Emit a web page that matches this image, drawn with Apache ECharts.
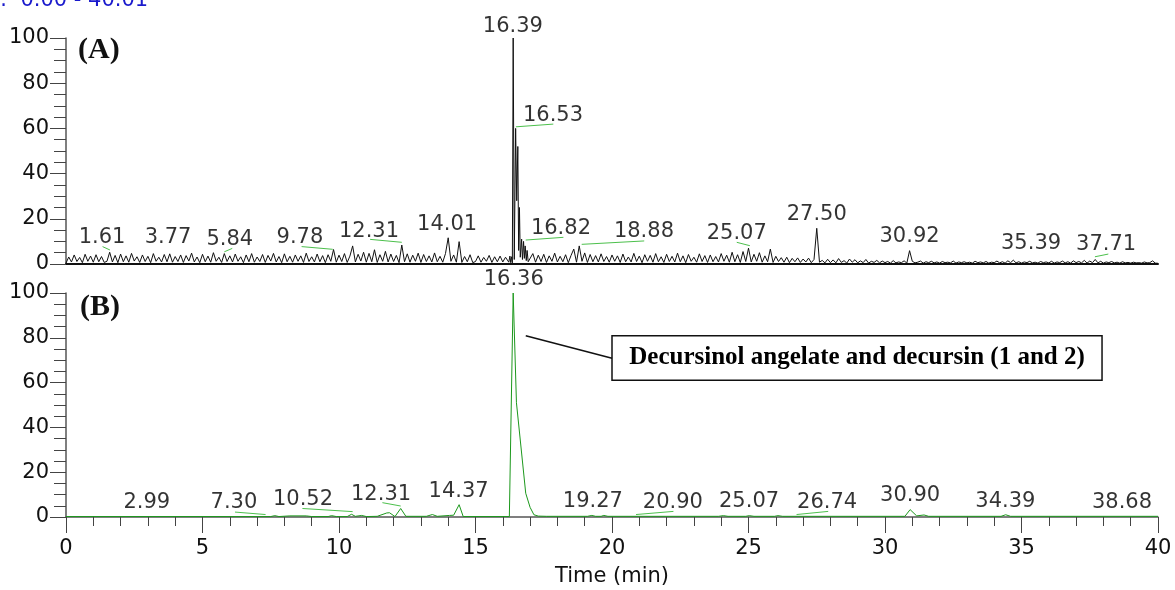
<!DOCTYPE html>
<html>
<head>
<meta charset="utf-8">
<script src="https://cdn.jsdelivr.net/npm/echarts@6/dist/echarts.min.js"></script>
<style>
  html, body { margin: 0; padding: 0; background: #fff; }
  #main { width: 1175px; height: 590px; }
</style>
</head>
<body>
<div id="main"></div>
<script>
var chartDom = document.getElementById("main");
var myChart = echarts.init(chartDom);
var option;

// (A) trace: one reading every 0.1 min, 0 -> 40 min (rows = one minute)
var stepA = 0.1;
var baseA = [
  0.4, 3.1, 0.9, 4.0, 1.1, 2.9, 0.6, 4.3, 1.2, 3.5,
  0.8, 4.1, 1.0, 3.3, 0.7, 1.2, 5.2, 0.9, 3.8, 0.6,
  4.4, 1.0, 3.6, 0.8, 4.7, 1.3, 3.2, 0.7, 4.0, 1.1,
  3.4, 0.6, 4.6, 1.2, 3.0, 0.9, 4.2, 1.0, 4.5, 0.8,
  3.3, 1.1, 4.0, 0.7, 3.7, 1.3, 4.8, 0.9, 3.1, 0.6,
  4.3, 1.0, 3.5, 0.8, 5.0, 1.2, 3.0, 0.7, 4.6, 1.1,
  3.6, 0.9, 4.4, 1.2, 3.2, 0.6, 4.0, 1.0, 4.6, 0.8,
  3.1, 1.1, 4.2, 0.7, 3.8, 1.3, 4.7, 0.9, 3.3, 0.6,
  4.5, 1.0, 3.4, 0.8, 4.0, 1.2, 3.6, 0.7, 4.8, 1.1,
  3.2, 0.9, 4.4, 1.0, 3.7, 0.6, 4.1, 1.2, 6.4, 0.8,
  3.9, 1.1, 4.6, 0.7, 3.5, 8.0, 0.9, 4.3, 1.3, 5.2,
  0.8, 4.7, 1.0, 6.3, 0.7, 4.1, 1.2, 5.6, 0.9, 4.4,
  1.1, 3.8, 0.6, 8.4, 1.0, 4.5, 0.8, 3.9, 1.2, 4.8,
  0.7, 4.2, 1.1, 3.6, 0.9, 4.9, 1.0, 3.4, 0.8, 4.6,
  11.6, 1.2, 4.0, 0.8, 9.9, 0.7, 3.3, 1.0, 4.1, 0.6,
  1.1, 3.6, 0.8, 2.9, 1.2, 3.8, 0.7, 3.2, 1.0, 3.5,
  0.9, 3.0, 1.0, 1.0, 1.0, 1.0, 1.0, 1.0, 1.0, 1.0,
  1.0, 4.6, 0.8, 3.9, 1.1, 4.3, 0.7, 3.6, 1.2, 4.8,
  0.9, 3.4, 1.0, 4.1, 0.6, 3.8, 6.6, 0.8, 8.0, 1.2,
  4.9, 0.7, 4.2, 1.0, 3.7, 0.9, 4.5, 1.1, 3.3, 0.8,
  4.0, 1.2, 3.6, 0.7, 4.4, 1.0, 3.1, 0.9, 4.7, 1.1,
  3.5, 0.6, 4.1, 1.2, 3.8, 0.8, 4.6, 1.0, 3.2, 0.7,
  4.3, 1.1, 3.4, 0.9, 4.8, 1.0, 3.6, 0.6, 4.2, 1.2,
  3.0, 0.8, 4.5, 1.1, 3.7, 0.7, 4.0, 1.0, 3.3, 0.9,
  4.6, 1.2, 3.9, 0.8, 5.2, 1.0, 4.1, 0.7, 5.5, 1.1,
  7.0, 0.9, 4.3, 1.2, 5.0, 0.8, 3.6, 1.0, 6.6, 0.7,
  3.4, 1.1, 2.8, 0.8, 3.0, 0.6, 2.5, 1.0, 2.7, 0.7,
  2.2, 0.9, 2.6, 0.6, 2.0, 15.8, 0.8, 1.6, 0.5, 2.1,
  0.6, 1.8, 0.5, 2.4, 0.7, 1.5, 0.4, 2.2, 0.8, 1.9,
  0.5, 1.4, 0.6, 2.0, 0.4, 1.2, 0.7, 1.6, 0.5, 1.3,
  0.6, 1.1, 0.4, 1.5, 0.5, 0.9, 0.6, 1.4, 0.4, 5.9,
  1.2, 0.5, 0.8, 1.3, 0.4, 1.0, 0.6, 1.2, 0.5, 0.9,
  0.4, 1.1, 0.6, 0.8, 0.5, 1.3, 0.4, 0.9, 0.6, 1.0,
  0.5, 0.8, 0.4, 1.2, 0.6, 0.9, 0.5, 1.1, 0.4, 0.8,
  0.6, 1.3, 0.5, 1.0, 0.4, 1.4, 0.6, 1.7, 0.5, 1.0,
  0.4, 0.9, 0.6, 1.2, 0.5, 0.8, 0.4, 1.1, 0.6, 0.9,
  0.5, 1.2, 0.4, 0.9, 0.6, 1.3, 0.5, 1.0, 0.4, 1.4,
  0.6, 1.1, 0.5, 1.6, 0.4, 1.3, 0.6, 2.0, 0.5, 1.2,
  0.4, 0.9, 0.6, 1.1, 0.5, 0.8, 0.4, 1.0, 0.5, 0.7,
  0.4, 0.8, 0.5, 0.6, 0.4, 0.9, 0.5, 0.6, 1.4, 0.4,
  0.3
];
// (A) main cluster, read point by point (replaces the grid between 16.15 and 16.95)
var clusterFrom = 16.15, clusterTo = 16.95;
var clusterA = [
  [16.22, 0.8], [16.26, 3.5], [16.29, 0.6], [16.32, 3.2], [16.35, 0.5],
  [16.38, 100], [16.42, 2.0], [16.47, 60], [16.51, 28], [16.55, 52],
  [16.58, 6], [16.61, 25], [16.64, 3], [16.69, 11], [16.72, 2],
  [16.76, 10], [16.79, 2.5], [16.82, 8], [16.86, 1.5], [16.89, 6], [16.93, 1.0]
];

// (B) trace [time, relative abundance]
var traceB = [
  [0, 0.2], [7.5, 0.2], [7.65, 0.6], [7.8, 0.2], [8.2, 0.5], [8.8, 0.5], [9.0, 0.2],
  [9.6, 0.2], [9.73, 0.6], [9.9, 0.2], [10.3, 0.2], [10.46, 1.2], [10.6, 0.3],
  [10.83, 0.7], [11.0, 0.2], [11.4, 0.3], [11.75, 1.8], [11.85, 1.9], [12.05, 0.2],
  [12.26, 3.8], [12.45, 0.3], [13.2, 0.3], [13.42, 1.1], [13.6, 0.3], [14.05, 0.7],
  [14.2, 0.8], [14.4, 5.5], [14.55, 0.2], [16.24, 0.2], [16.38, 100], [16.5, 51],
  [16.84, 10.6], [17.0, 4.3], [17.14, 1.0], [17.3, 0.4], [17.6, 0.3], [19.1, 0.3],
  [19.26, 0.7], [19.4, 0.3], [19.6, 0.3], [19.7, 0.7], [19.85, 0.3], [23.9, 0.3],
  [24.08, 0.6], [24.25, 0.3], [24.9, 0.3], [25.03, 0.6], [25.2, 0.3], [25.95, 0.3],
  [26.08, 0.6], [26.25, 0.3], [30.73, 0.3], [30.92, 3.3], [31.16, 0.5], [31.43, 0.9],
  [31.6, 0.3], [34.25, 0.3], [34.42, 1.0], [34.6, 0.3], [40, 0.3]
];

// peak labels: [text, time, height] (where the text sits)
var labelsA = [
  ["1.61", 1.32, 11.7], ["3.77", 3.74, 11.7], ["5.84", 6.0, 10.8], ["9.78", 8.57, 11.5],
  ["12.31", 11.1, 14.4], ["14.01", 13.96, 17.5], ["16.39", 16.37, 105], ["16.53", 17.84, 65.9],
  ["16.82", 18.13, 15.9], ["18.88", 21.17, 14.2], ["25.07", 24.57, 13.5], ["27.50", 27.5, 21.9],
  ["30.92", 30.9, 12.2], ["35.39", 35.35, 9.1], ["37.71", 38.1, 8.4]
];
var labelsB = [
  ["2.99", 2.96, 6.3], ["7.30", 6.15, 6.3], ["10.52", 8.68, 7.6], ["12.31", 11.54, 9.9],
  ["14.37", 14.38, 11.5], ["16.36", 16.4, 106], ["19.27", 19.3, 6.7], ["20.90", 22.23, 6.3],
  ["25.07", 25.02, 6.8], ["26.74", 27.88, 6.3], ["30.90", 30.92, 9.5], ["34.39", 34.41, 6.7],
  ["38.68", 38.68, 6.3]
];
// green label leaders: [t1, y1, t2, y2]
var leadersA = [
  [1.34, 7.7, 1.61, 6.2], [5.80, 5.4, 6.09, 6.9], [8.63, 7.7, 9.77, 6.5],
  [11.14, 10.9, 12.3, 9.6], [16.48, 60.7, 17.85, 61.9], [16.84, 10.6, 18.22, 11.8],
  [18.89, 8.7, 21.18, 10.2], [24.57, 9.6, 25.05, 8.1], [37.69, 3.2, 38.18, 4.4]
];
var leadersB = [
  [6.19, 2.2, 7.31, 1.1], [8.66, 3.8, 10.5, 2.4], [11.59, 6.4, 12.26, 4.9],
  [20.88, 1.1, 22.25, 2.5], [26.76, 1.1, 27.92, 2.5]
];
var noteText = "Decursinol angelate and decursin (1 and 2)";
var noteLeader = [16.84, 80.9, 20.0, 70.9];
var noteBox = [20.0, 80.9, 37.95, 61.1];

var traceA = [];
baseA.forEach(function (v, i) {
  var t = +(i * stepA).toFixed(2);
  if (t < clusterFrom || t > clusterTo) traceA.push([t, v]);
});
traceA = traceA.concat(clusterA).sort(function (a, b) { return a[0] - b[0]; });

var numFont = "DejaVu Sans";
var green = "#1c981c";
var leaderGreen = "#4cc04c";

function labelData(list) {
  return list.map(function (l) { return { name: l[0], value: [l[1], l[2]] }; });
}
function leaderData(list) {
  return list.map(function (l) { return [{ coord: [l[0], l[1]] }, { coord: [l[2], l[3]] }]; });
}
// major y axis (labels, long ticks)
function yMajor(idx) {
  return {
    gridIndex: idx, type: "value", position: "left", min: 0, max: 100, interval: 20,
    axisLine: { show: true, lineStyle: { color: "#555", width: 1.5 } },
    axisTick: { show: true, length: 16, lineStyle: { color: "#444" } },
    axisLabel: { fontFamily: numFont, fontSize: 21, color: "#111", margin: 17 },
    splitLine: { show: false }
  };
}
// minor y axis: short ticks every 5, same side
function yMinor(idx) {
  return {
    gridIndex: idx, type: "value", position: "left", offset: 0, min: 0, max: 100, interval: 5,
    axisLine: { show: false },
    axisTick: { show: true, length: 12, lineStyle: { color: "#444" } },
    axisLabel: { show: false }, splitLine: { show: false }
  };
}
function labelSeries(idx, list) {
  return {
    type: "scatter", xAxisIndex: idx, yAxisIndex: idx, symbolSize: 0, clip: false, silent: true,
    data: labelData(list),
    label: { show: true, position: "inside", formatter: "{b}", fontFamily: numFont, fontSize: 21, color: "#000" }
  };
}

option = {
  animation: false,
  backgroundColor: "#fff",
  grid: [
    { left: 66, top: 38, width: 1092, height: 226 },
    { left: 66, top: 293, width: 1092, height: 224 }
  ],
  xAxis: [
    {
      gridIndex: 0, type: "value", position: "bottom", min: 0, max: 40, interval: 5,
      axisLine: { lineStyle: { color: "#111", width: 2 } },
      axisTick: { show: false }, axisLabel: { show: false }, splitLine: { show: false }
    },
    {
      gridIndex: 1, type: "value", position: "bottom", min: 0, max: 40, interval: 5,
      axisLine: { lineStyle: { color: "#555", width: 1.5 } },
      axisTick: { show: true, length: 16, lineStyle: { color: "#444" } },
      axisLabel: { fontFamily: numFont, fontSize: 21, color: "#111", margin: 21 },
      splitLine: { show: false },
      name: "Time (min)", nameLocation: "middle", nameGap: 49,
      nameTextStyle: { fontFamily: numFont, fontSize: 21, color: "#111" }
    },
    {
      gridIndex: 1, type: "value", position: "bottom", offset: 0, min: 0, max: 40, interval: 1,
      axisLine: { show: false },
      axisTick: { show: true, length: 9, lineStyle: { color: "#444" } },
      axisLabel: { show: false }, splitLine: { show: false }
    }
  ],
  yAxis: [yMajor(0), yMajor(1), yMinor(0), yMinor(1)],
  graphic: [
    { type: "text", style: { x: 0, y: 11, text: ":  0.00 - 40.01", fontFamily: numFont, fontSize: 21, fill: "#1a1acc", verticalAlign: "bottom" } },
    { type: "text", style: { x: 78, y: 50, text: "(A)", fontFamily: "Liberation Serif", fontWeight: "bold", fontSize: 30, fill: "#111", verticalAlign: "middle" } },
    { type: "text", style: { x: 80, y: 307, text: "(B)", fontFamily: "Liberation Serif", fontWeight: "bold", fontSize: 30, fill: "#111", verticalAlign: "middle" } }
  ],
  series: [
    {
      type: "line", xAxisIndex: 0, yAxisIndex: 0, data: traceA, symbol: "none",
      lineStyle: { color: "#111", width: 1 },
      markLine: {
        silent: true, symbol: ["none", "none"], label: { show: false },
        lineStyle: { color: leaderGreen, width: 1, type: "solid" },
        data: leaderData(leadersA)
      }
    },
    {
      type: "line", xAxisIndex: 1, yAxisIndex: 1, data: traceB, symbol: "none",
      lineStyle: { color: green, width: 1 },
      markLine: {
        silent: true, symbol: ["none", "none"], label: { show: false },
        lineStyle: { color: leaderGreen, width: 1, type: "solid" },
        data: leaderData(leadersB).concat([[
          { coord: [noteLeader[0], noteLeader[1]], lineStyle: { color: "#111", width: 1.5 } },
          { coord: [noteLeader[2], noteLeader[3]] }
        ]])
      },
      markArea: {
        silent: true,
        itemStyle: { color: "#fff", borderColor: "#111", borderWidth: 1.5 },
        label: {
          show: true, position: "inside", fontFamily: "Liberation Serif", fontWeight: "bold",
          fontSize: 25, color: "#000"
        },
        data: [[{ name: noteText, coord: [noteBox[0], noteBox[1]] }, { coord: [noteBox[2], noteBox[3]] }]]
      }
    },
    labelSeries(0, labelsA),
    labelSeries(1, labelsB)
  ]
};

option && myChart.setOption(option);
</script>
</body>
</html>
